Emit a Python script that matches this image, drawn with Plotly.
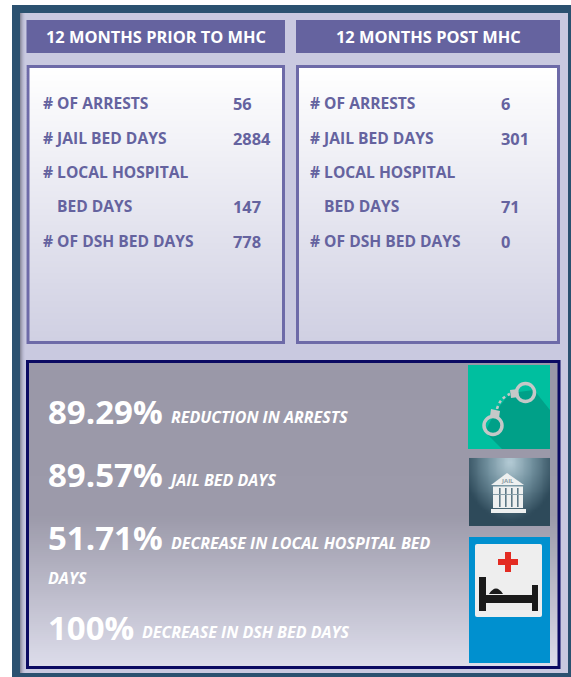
import plotly.graph_objects as go

# ---- content -------------------------------------------------------------
headers = ["12 MONTHS PRIOR TO MHC", "12 MONTHS POST MHC"]
row_labels = ["# OF ARRESTS", "# JAIL BED DAYS", "# LOCAL HOSPITAL", "BED DAYS", "# OF DSH BED DAYS"]
prior_values = ["56", "2884", "", "147", "778"]
post_values = ["6", "301", "", "71", "0"]
pct_values = ["89.29%", "89.57%", "51.71%", "100%"]
pct_notes = ["REDUCTION IN ARRESTS", "JAIL BED DAYS", "DECREASE IN LOCAL HOSPITAL BED", "DECREASE IN DSH BED DAYS"]
pct_wrap = "DAYS"

# ---- styles --------------------------------------------------------------
FONT = "Open Sans"
PURPLE = "#65639f"
BORDER = "#6d6aa8"
TEXTC = "#65639f"
DARK = "#2b5170"
LIGHT = "#c9c9e0"
NAVY = "#0b0a62"

shapes, ann = [], []


def rect(x0, y0, x1, y1, fill, line=None, lw=0, layer="below"):
    shapes.append(dict(type="rect", x0=x0, y0=y0, x1=x1, y1=y1, fillcolor=fill, layer=layer,
                       line=dict(color=line, width=lw) if line else dict(width=0)))


def path(d, fill, layer="above", line=None, lw=0):
    shapes.append(dict(type="path", path=d, fillcolor=fill, layer=layer,
                       line=dict(color=line, width=lw) if line else dict(width=0)))


def mix(a, b, t):
    return "rgb(%d,%d,%d)" % tuple(round(a[i] + (b[i] - a[i]) * t) for i in range(3))


def vgrad(x0, y0, x1, y1, stops, step=2):
    y = y0
    while y < y1:
        t = (y - y0) / (y1 - y0)
        for (t0, c0), (t1, c1) in zip(stops, stops[1:]):
            if t0 <= t <= t1:
                col = mix(c0, c1, (t - t0) / (t1 - t0))
                break
        rect(x0, y, x1, min(y + step + 0.5, y1), col)
        y += step


def text(x, y, s, size, color="white", anchor="left", italic=False, weight=700):
    # annotation boxes carry about 2 px of padding on their left side
    ann.append(dict(x=x - 2 if anchor == "left" else x, y=y, text=s, showarrow=False, xanchor=anchor,
                    yanchor="middle", align="left",
                    font=dict(family=FONT, size=size, color=color, weight=weight,
                              style="italic" if italic else "normal")))


# ---- frame ---------------------------------------------------------------
rect(12, 5, 571, 677, DARK)
rect(20, 13, 568, 673, LIGHT)
for i, c in enumerate(["#8d8d9f", "#a0a0b4", "#b0b0c6", "#bcbcd4", "#c4c4dc"]):
    rect(20 + i, 13, 21 + i, 673, c)

# ---- upper panels --------------------------------------------------------
panel_x = [(26.5, 285), (296, 560)]
for (x0, x1), title, vals in zip(panel_x, headers, [prior_values, post_values]):
    rect(x0, 20, x1, 53, PURPLE)
    text((x0 + x1) / 2, 36.5, title, 16.4, "white", "center")
    vgrad(x0, 65, x1, 344, [(0, (255, 255, 255)), (1, (207, 207, 226))])
    rect(x0 + 1.5, 66.5, x1 - 1.5, 342.5, "rgba(0,0,0,0)", BORDER, 3)
    for lab, val, y in zip(row_labels, vals, [103, 138, 172, 206, 241]):
        indent = 14 if lab == "BED DAYS" else 0
        text(x0 + 16.5 + indent - (2.5 if x0 > 100 else 0), y, lab, 15.6, TEXTC)
        if val:
            text(x0 + (206.5 if x0 < 100 else 205), y, val, 16.4, TEXTC)

# ---- lower panel ---------------------------------------------------------
vgrad(26, 360, 560, 669, [(0, (154, 152, 168)), (0.5, (156, 154, 170)), (1, (222, 222, 236))])
rect(27.5, 361.5, 559, 667.5, "rgba(0,0,0,0)", NAVY, 3)

for pct, note, y, nx, ny in zip(pct_values, pct_notes, [411, 474, 537, 627],
                                [171, 168, 171, 142], [417, 480, 543, 632]):
    text(48, y, pct, 33)
    text(nx, ny, note, 16, italic=True)
text(48, 578, pct_wrap, 16, italic=True)

# ---- handcuffs icon ------------------------------------------------------
rect(468, 365, 550, 449, "#00bf9f", layer="above")
path("M 534 390 L 550 410 L 550 449 L 502 449 L 485 432 L 495 412 L 510 393 Z", "#00a088")
STEEL = "#c5c8c8"
for cx, cy in [(493, 425.5), (525.5, 392.5)]:
    shapes.append(dict(type="circle", x0=cx - 9, y0=cy - 9, x1=cx + 9, y1=cy + 9,
                       fillcolor="rgba(0,0,0,0)", line=dict(color=STEEL, width=3.5), layer="above"))
path("M 491 409 L 500 411 L 499 418 L 490 416 Z", STEEL)
path("M 510 390 L 518 389 L 519 397 L 511 398 Z", STEEL)
shapes.append(dict(type="path", path="M 497 409 Q 500 398 510 394", layer="above",
                   fillcolor="rgba(0,0,0,0)", line=dict(color=STEEL, width=2.5, dash="dot")))

# ---- jail icon (radial glow behind a white building) ---------------------
gx = [470.35 + i * 78.3 / 29 for i in range(30)]
gy = [459.4 + j * 65.2 / 23 for j in range(24)]
gz = [[max(0.0, 1 - (((x - 509.5) / 46) ** 2 + ((y - 462) / 58) ** 2) ** 0.5) for x in gx] for y in gy]
glow = go.Heatmap(x=gx, y=gy, z=gz, showscale=False, zsmooth="best", hoverinfo="skip", zmin=0, zmax=1,
                  colorscale=[[0, "#2e4a5a"], [0.5, "#6f8e9c"], [1, "#b5ccd6"]])
W = "#eef0f0"
path("M 507 473 L 524 485 L 491 485 Z", W)
rect(493, 486.5, 523, 508, W, layer="above")
for x in [499, 505, 511, 517]:
    rect(x, 488, x + 1.6, 507, "#5d7886", layer="above")
rect(493, 494, 523, 495, "#8aa0aa", layer="above")
rect(491, 509, 526, 513, W, layer="above")
ann.append(dict(x=507.5, y=481, text="JAIL", showarrow=False, font=dict(family=FONT, size=6, color="#8a9aa2", weight=700)))

# ---- hospital icon -------------------------------------------------------
rect(469, 537, 550, 663, "#0090cf", layer="above")
shapes.append(dict(type="path", layer="above", fillcolor="#eeeeee", line=dict(width=0),
                   path="M 477 544 L 540 544 Q 542 544 542 546 L 542 615 Q 542 617 540 617 "
                        "L 477 617 Q 475 617 475 615 L 475 546 Q 475 544 477 544 Z"))
rect(505, 552, 511, 572, "#e32b22", layer="above")
rect(498, 559, 518, 565, "#e32b22", layer="above")
rect(479, 577, 486, 611, "#1a1a1a", layer="above")
rect(532, 585, 538, 611, "#1a1a1a", layer="above")
rect(486, 595, 532, 603, "#1a1a1a", layer="above")
path("M 489 594 Q 496 583 503 594 Z", "#1a1a1a")

# ---- figure --------------------------------------------------------------
fig = go.Figure(glow)
fig.update_layout(
    width=571, height=677, margin=dict(l=0, r=0, t=0, b=0),
    paper_bgcolor="white", plot_bgcolor="white", showlegend=False,
    xaxis=dict(range=[0, 571], visible=False, fixedrange=True),
    yaxis=dict(range=[677, 0], visible=False, fixedrange=True),
    shapes=shapes, annotations=ann,
)
fig.write_html("out.html", config=dict(displayModeBar=False),
               post_script="document.body.style.margin='0';")
